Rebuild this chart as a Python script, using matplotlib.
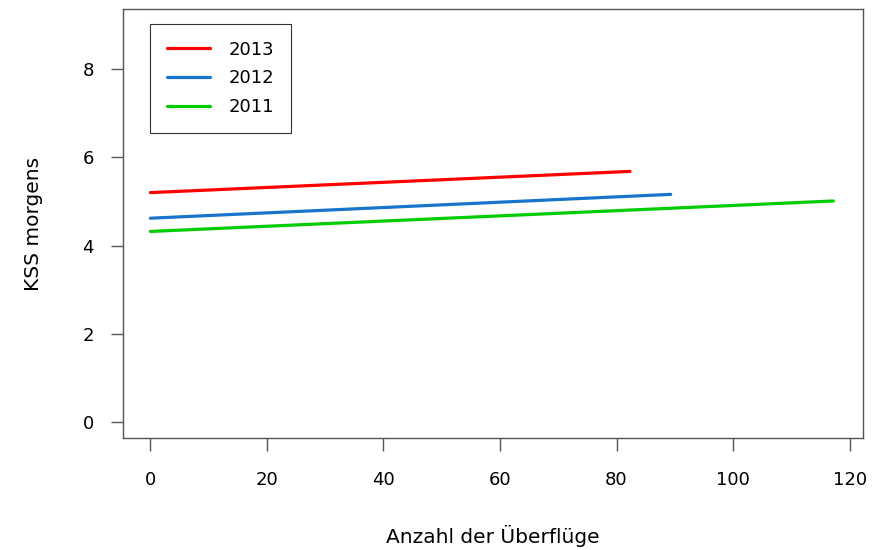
import matplotlib
matplotlib.use("Agg")
import matplotlib.pyplot as plt

years = ["2013", "2012", "2011"]
colors = ["#FF0000", "#1874CD", "#00CD00"]
x_start = [0, 0, 0]
x_end = [82.3, 89.3, 117.2]
y_start = [5.20, 4.62, 4.32]
y_end = [5.68, 5.16, 5.01]
xticks = [0, 20, 40, 60, 80, 100, 120]
yticks = [0, 2, 4, 6, 8]

plt.rcParams['font.family'] = ['DejaVu Sans']
fig = plt.figure(figsize=(8.81, 5.5), dpi=100)
ax = fig.add_axes([123/881, 1-438/550, (863-123)/881, (438-9)/550])

for yr, c, xs, xe, ys, ye in zip(years, colors, x_start, x_end, y_start, y_end):
    ax.plot([xs, xe], [ys, ye], color=c, lw=2.3, label=yr, solid_capstyle='round')

ax.set_xlim(-4.7, 122.3)
ax.set_ylim(-0.36, 9.36)
ax.set_xticks(xticks)
ax.set_yticks(yticks)
ax.tick_params(direction='out', length=9, width=1, colors='#555555', labelcolor='black',
               labelsize=13, pad=15)
ax.tick_params(axis='y', pad=12)
for s in ax.spines.values():
    s.set_color('#555555')
    s.set_linewidth(1.0)

ax.set_xlabel("Anzahl der Überflüge", fontsize=14.5, labelpad=26)
ax.set_ylabel("KSS morgens", fontsize=14.5, labelpad=28)

leg = ax.legend(loc='upper left', bbox_to_anchor=(27/740, 1-15/429), fancybox=False,
                edgecolor='black', fontsize=13, handlelength=2.4, handletextpad=1.05,
                borderpad=0.92, labelspacing=0.6, borderaxespad=0)
leg.get_frame().set_linewidth(0.8)

fig.savefig("out.png", dpi=100)
